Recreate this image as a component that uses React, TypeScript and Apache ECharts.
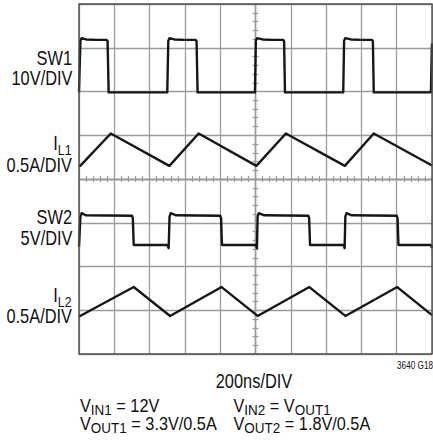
import React, { useEffect, useRef } from "react";
import * as echarts from "echarts";

// time axis in ns (200 ns/div, trigger at centre), vertical in divisions from centre
const X_MIN = -1000;
const X_MAX = 1000;
const X_STEP = 200;
const Y_MIN = -4;
const Y_MAX = 4;
const Y_STEP = 1;

// SW1 (10V/DIV) trace points [ns, div]
const sw1: [number, number][] = [
  [-1000, 1.98], [-996, 1.98], [-992, 3.16], [-985, 3.22], [-960, 3.19], [-900, 3.18],
  [-845, 3.18], [-838, 3.15], [-832, 1.98],
  [-500, 1.98], [-494, 3.16], [-487, 3.22], [-460, 3.19], [-400, 3.18],
  [-340, 3.18], [-334, 3.15], [-328, 1.98],
  [-3, 1.98], [2, 3.16], [9, 3.22], [40, 3.19], [100, 3.18],
  [157, 3.18], [162, 3.15], [167, 1.98],
  [497, 1.98], [502, 3.16], [509, 3.22], [540, 3.19], [600, 3.18],
  [660, 3.18], [665, 3.15], [670, 1.98],
  [994, 1.98], [999, 3.0], [1000, 3.1],
];

// IL1 (0.5A/DIV) trace points
const il1: [number, number][] = [
  [-1000, 0.32], [-993, 0.3], [-820, 1.04], [-488, 0.3], [-322, 1.04],
  [5, 0.3], [172, 1.04], [506, 0.3], [670, 1.04], [1000, 0.31],
];

// SW2 (5V/DIV) trace points
const sw2: [number, number][] = [
  [-1000, -1.55], [-996, -1.55], [-992, -0.86], [-985, -0.78], [-960, -0.83],
  [-700, -0.84], [-695, -0.9], [-690, -1.51],
  [-500, -1.51], [-492, -1.58], [-487, -0.86], [-480, -0.78], [-450, -0.83],
  [-200, -0.84], [-195, -0.9], [-190, -1.51],
  [3, -1.51], [8, -1.58], [12, -0.86], [19, -0.78], [50, -0.83],
  [300, -0.84], [304, -0.9], [309, -1.51],
  [500, -1.51], [505, -1.58], [509, -0.86], [516, -0.78], [545, -0.83],
  [800, -0.84], [805, -0.9], [810, -1.51],
  [995, -1.51], [1000, -1.58],
];

// IL2 (0.5A/DIV) trace points
const il2: [number, number][] = [
  [-1000, -3.12], [-994, -3.13], [-690, -2.47], [-484, -3.13], [-192, -2.47],
  [12, -3.13], [305, -2.47], [509, -3.13], [803, -2.47], [1000, -3.11],
];

const FONT = '"Liberation Sans", Arial, sans-serif';
const NARROW = 0.82;
const NOTE_SCALE = 0.93;
const GRID_COLOR = "#9c9c9c";
const TRACE_COLOR = "#161616";
const TEXT_COLOR = "#111";

const GRID = { left: 79, top: 4, width: 353, height: 350 };

function plainText(text: string, x: number, y: number, size: number, align: string) {
  return {
    type: "text",
    z: 50,
    x,
    y,
    scaleX: NARROW,
    style: {
      text,
      x: 0,
      y: 0,
      fill: TEXT_COLOR,
      fontSize: size,
      fontFamily: FONT,
      align,
      verticalAlign: "middle",
    },
  };
}

function richText(
  text: string,
  x: number,
  y: number,
  main: number,
  sub: number,
  drop: number,
  align: string,
  scale: number
) {
  const lh = main;
  return {
    type: "text",
    z: 50,
    x,
    y,
    scaleX: scale,
    style: {
      text,
      x: 0,
      y: 0,
      fill: TEXT_COLOR,
      fontSize: main,
      fontFamily: FONT,
      align,
      verticalAlign: "middle",
      rich: {
        m: { fontSize: main, fontFamily: FONT, fill: TEXT_COLOR, lineHeight: lh },
        s: {
          fontSize: sub,
          fontFamily: FONT,
          fill: TEXT_COLOR,
          lineHeight: lh,
          padding: [drop * 2, 0, 0, 0],
        },
      },
    },
  };
}

function makeXAxis(inside: boolean, withSplit: boolean) {
  return {
    type: "value",
    min: X_MIN,
    max: X_MAX,
    interval: X_STEP,
    position: "bottom",
    axisLine: {
      show: true,
      onZero: true,
      onZeroAxisIndex: 0,
      lineStyle: { color: GRID_COLOR, width: 1.3 },
    },
    axisTick: { show: false, inside },
    minorTick: { show: true, splitNumber: 5, length: 3, lineStyle: { color: GRID_COLOR, width: 1.2 } },
    axisLabel: { show: false },
    splitLine: { show: withSplit, lineStyle: { color: GRID_COLOR, width: 1.3 } },
  };
}

function makeYAxis(inside: boolean, withSplit: boolean) {
  return {
    type: "value",
    min: Y_MIN,
    max: Y_MAX,
    interval: Y_STEP,
    position: "left",
    axisLine: {
      show: true,
      onZero: true,
      onZeroAxisIndex: 0,
      lineStyle: { color: GRID_COLOR, width: 1.3 },
    },
    axisTick: { show: false, inside },
    minorTick: { show: true, splitNumber: 5, length: 3, lineStyle: { color: GRID_COLOR, width: 1.2 } },
    axisLabel: { show: false },
    splitLine: { show: withSplit, lineStyle: { color: GRID_COLOR, width: 1.3 } },
  };
}

function traceSeries(data: [number, number][]) {
  return {
    type: "line",
    xAxisIndex: 0,
    yAxisIndex: 0,
    data,
    showSymbol: false,
    symbol: "none",
    silent: true,
    z: 10,
    lineStyle: { color: TRACE_COLOR, width: 2.4, join: "round" },
  };
}

export default function App() {
  const ref = useRef<HTMLDivElement>(null);

  useEffect(() => {
    if (!ref.current) return;
    const chart = echarts.init(ref.current, undefined, { renderer: "svg" });
    const option: any = {
      animation: false,
      backgroundColor: "#ffffff",
      grid: { ...GRID, show: false, containLabel: false },
      xAxis: [makeXAxis(false, true), makeXAxis(true, false)],
      yAxis: [makeYAxis(false, true), makeYAxis(true, false)],
      series: [traceSeries(sw1), traceSeries(il1), traceSeries(sw2), traceSeries(il2)],
      graphic: [
        {
          type: "rect",
          z: 40,
          shape: { x: GRID.left, y: GRID.top, width: GRID.width, height: GRID.height },
          style: { fill: "none", stroke: "#505050", lineWidth: 1.4 },
          silent: true,
        },
        plainText("SW1", 72, 57.5, 20, "right"),
        plainText("10V/DIV", 72.5, 77.5, 20, "right"),
        richText("{m|I}{s|L1}", 71.5, 143, 20, 15, 7.2, "right", NARROW),
        plainText("0.5A/DIV", 72, 165, 20, "right"),
        plainText("SW2", 72, 216.5, 20, "right"),
        plainText("5V/DIV", 72.5, 237.5, 20, "right"),
        richText("{m|I}{s|L2}", 71.5, 294.5, 20, 15, 7.2, "right", NARROW),
        plainText("0.5A/DIV", 72, 315.8, 20, "right"),
        plainText("3640 G18", 433, 366, 10, "right"),
        plainText("200ns/DIV", 254, 381, 20, "center"),
        richText("{m|V}{s|IN1}{m| = 12V}", 80, 406, 17.5, 14.5, 4.3, "left", NOTE_SCALE),
        richText("{m|V}{s|OUT1}{m| = 3.3V/0.5A}", 80, 424, 17.5, 14.5, 4.3, "left", NOTE_SCALE),
        richText("{m|V}{s|IN2}{m| = V}{s|OUT1}", 233.5, 406, 17.5, 14.5, 4.3, "left", NOTE_SCALE),
        richText("{m|V}{s|OUT2}{m| = 1.8V/0.5A}", 233.5, 424, 17.5, 14.5, 4.3, "left", NOTE_SCALE),
      ],
    };
    chart.setOption(option);
    return () => chart.dispose();
  }, []);

  return (
    <div
      ref={ref}
      style={{ position: "absolute", left: 0, top: 0, width: 433, height: 442, background: "#fff" }}
    />
  );
}
